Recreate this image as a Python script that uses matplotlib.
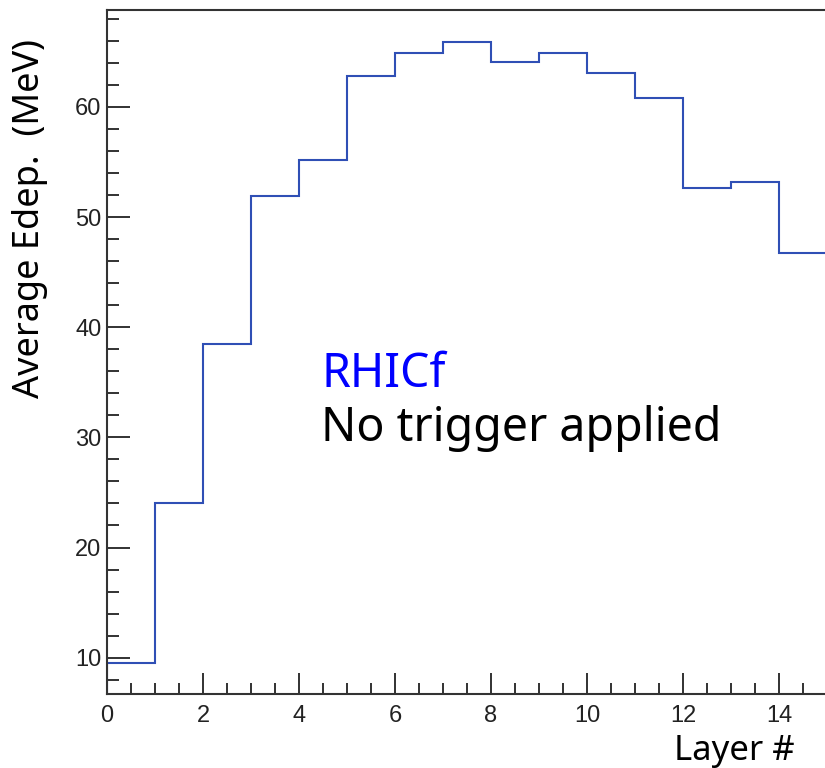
import matplotlib
matplotlib.use("Agg")
import matplotlib.pyplot as plt
from matplotlib.ticker import MultipleLocator
import numpy as np

# average energy deposit per layer (MeV), layers 0..14
layers = np.arange(0, 16)
edep = [9.5, 24.0, 38.5, 51.9, 55.2, 62.8, 64.9, 65.9,
        64.1, 64.9, 63.1, 60.8, 52.6, 53.2, 46.7]

W, H = 825, 768
fig = plt.figure(figsize=(W / 100, H / 100), dpi=100)
# right edge of the frame sits just past the picture, as in the reference
ax = fig.add_axes([107 / W, (H - 694) / H, (827 - 107) / W, (694 - 10) / H])

ax.stairs(edep, layers, color="#2f4fb5", lw=1.5)

ax.set_xlim(0, 15)
ax.set_ylim(6.7, 68.8)
ax.xaxis.set_major_locator(MultipleLocator(2))
ax.xaxis.set_minor_locator(MultipleLocator(0.5))
ax.yaxis.set_major_locator(MultipleLocator(10))
ax.yaxis.set_minor_locator(MultipleLocator(2))
ax.tick_params(which="both", direction="in", top=False, right=False,
               width=1.3, color="#222222", labelsize=17, labelcolor="#222222")
ax.tick_params(axis="x", which="major", length=15, pad=8)
ax.tick_params(axis="x", which="minor", length=8)
ax.tick_params(axis="y", which="major", length=16.5, pad=4)
ax.tick_params(axis="y", which="minor", length=8.6)
for lab in ax.get_xticklabels() + ax.get_yticklabels():
    lab.set_family("Liberation Sans")
for s in ax.spines.values():
    s.set_linewidth(1.5)
    s.set_color("#333333")

font = "Noto Sans"
fig.text(321 / W, 1 - 387 / H, "RHICf", color="#0000ff", fontsize=33.5,
         family=font, ha="left", va="baseline")
fig.text(321 / W, 1 - 441 / H, "No trigger applied", color="black",
         fontsize=33.5, family=font, ha="left", va="baseline")

fig.text(795 / W, 1 - 760 / H, "Layer #", fontsize=25, family=font,
         ha="right", va="baseline")
fig.text(12 / W, 1 - 218 / H, "Average Edep.  (MeV)", fontsize=26,
         family=font, rotation=90, ha="left", va="center")

fig.savefig("out.png", dpi=100)
